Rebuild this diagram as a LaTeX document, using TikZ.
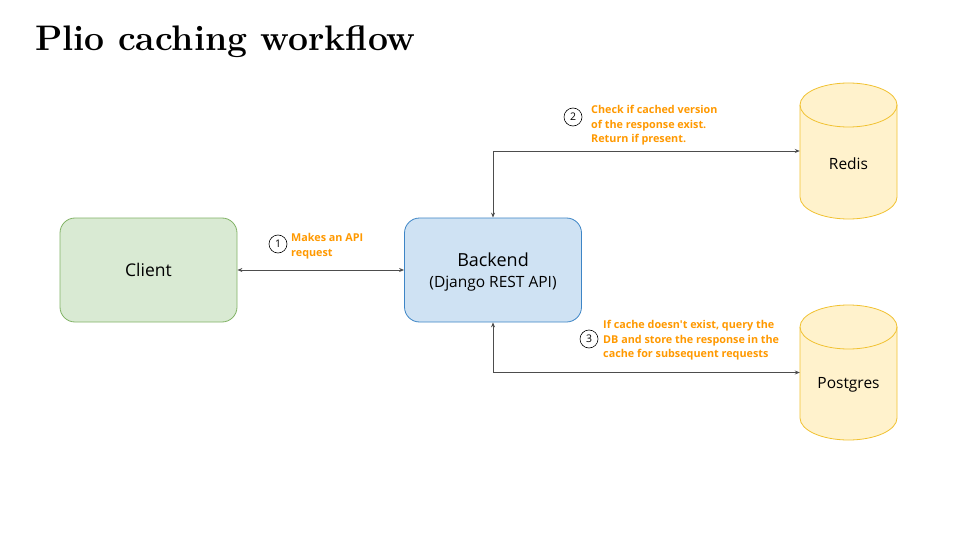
\documentclass[tikz,border=0pt]{standalone}
\usepackage{fontspec}
\usetikzlibrary{arrows.meta,positioning}
\newfontfamily\bodyfont{Open Sans}
\definecolor{clientfill}{HTML}{D9EAD3}
\definecolor{clientline}{HTML}{82B366}
\definecolor{backfill}{HTML}{CFE2F3}
\definecolor{backline}{HTML}{3D85C6}
\definecolor{dbfill}{HTML}{FFF2CC}
\definecolor{dbline}{HTML}{F1C232}
\definecolor{note}{HTML}{FF9900}
\definecolor{wire}{HTML}{4D4D4D}
\tikzset{
  box/.style={rounded corners=15pt, line width=0.8pt, minimum width=177pt, minimum height=104pt, font=\bodyfont\fontsize{17.5}{20}\selectfont, align=center},
  wirearrow/.style={draw=wire, line width=0.8pt, {Stealth[length=5pt,width=4pt]}-{Stealth[length=5pt,width=4pt]}},
  stepnum/.style={circle, draw=black, line width=0.6pt, minimum size=18pt, inner sep=0pt, font=\bodyfont\fontsize{10.5}{10.5}\selectfont},
  notetext/.style={anchor=west, inner sep=0pt, text=note, align=left, font=\bodyfont\bfseries\fontsize{10.8}{14.5}\selectfont},
  dbtext/.style={font=\bodyfont\fontsize{15.5}{17}\selectfont}
}
\newcommand{\dbcyl}[3]{% left x, top y, bottom y
  \fill[dbfill] (#1,#2+22) -- (#1,#3-22) arc[start angle=180,end angle=360,x radius=48.5pt,y radius=22pt] -- (#1+97,#2+22) arc[start angle=0,end angle=180,x radius=48.5pt,y radius=22pt] -- cycle;
  \draw[dbline, line width=0.8pt] (#1,#2+22) -- (#1,#3-22) arc[start angle=180,end angle=360,x radius=48.5pt,y radius=22pt] -- (#1+97,#2+22) arc[start angle=0,end angle=180,x radius=48.5pt,y radius=22pt];
  \draw[dbline, line width=0.8pt] (#1,#2+22) arc[start angle=180,end angle=360,x radius=48.5pt,y radius=22pt];
}
\begin{document}
\begin{tikzpicture}[x=1pt,y=-1pt]
\useasboundingbox[fill=white] (0,0) rectangle (960,540);
\node[anchor=base west, inner sep=0pt, font=\bfseries\fontsize{35.5}{40}\selectfont] (title) at (35,51) {Plio caching workflow};

\node[box, draw=clientline, fill=clientfill] (client) at (148.5,270) {Client};
\node[box, draw=backline, fill=backfill] (backend) at (493,270) {};
\node[align=center, font=\bodyfont\fontsize{18}{21}\selectfont] (backlbl) at (493,272) {Backend\\{\fontsize{15.5}{18}\selectfont(Django REST API)}};

\dbcyl{800}{83}{219}
\node[dbtext, minimum width=97pt, minimum height=136pt, inner sep=0pt] (redis) at (848.5,151) {};
\node[dbtext] (redislbl) at (848.5,164) {Redis};
\dbcyl{800}{305}{440}
\node[dbtext, minimum width=97pt, minimum height=135pt, inner sep=0pt] (pg) at (848.5,372.5) {};
\node[dbtext] (pglbl) at (848.5,385) {Postgres};

\draw[wirearrow] (client.east) -- (backend.west);
\draw[wirearrow] (backend.north) |- (redis.west);
\draw[wirearrow] (backend.south) |- (pg.west);

\node[stepnum] (s1) at (278,244) {1};
\node[notetext] (t1) at (291,246) {Makes an API\\request};
\node[stepnum] (s2) at (573,117) {2};
\node[notetext] (t2) at (591,125.5) {Check if cached version\\of the response exist.\\Return if present.};
\node[stepnum] (s3) at (589,339) {3};
\node[notetext] (t3) at (603,340.5) {If cache doesn't exist, query the\\DB and store the response in the\\cache for subsequent requests};
\end{tikzpicture}
\end{document}
